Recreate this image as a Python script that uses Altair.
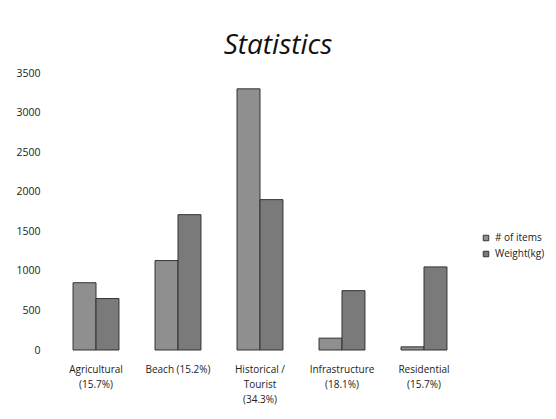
import altair as alt
import pandas as pd

categories = ["Agricultural|(15.7%)", "Beach (15.2%)", "Historical /|Tourist|(34.3%)",
              "Infrastructure|(18.1%)", "Residential|(15.7%)"]
series = ["# of items", "Weight(kg)"]
items = [850, 1130, 3300, 150, 40]
weight = [650, 1710, 1900, 750, 1050]
y_ticks = [0, 500, 1000, 1500, 2000, 2500, 3000, 3500]

rows = []
for c, a, b in zip(categories, items, weight):
    rows.append({"cat": c, "series": series[0], "value": a})
    rows.append({"cat": c, "series": series[1], "value": b})
df = pd.DataFrame(rows)

FONT = "Open Sans"

chart = alt.Chart(df).mark_bar(stroke="#333333", strokeWidth=1).encode(
    x=alt.X("cat:N", sort=categories, title=None,
            scale=alt.Scale(paddingInner=0.44, paddingOuter=0.22),
            axis=alt.Axis(labelAngle=0, domain=False, ticks=False,
                          labelExpr="split(datum.label, '|')",
                          labelFont=FONT, labelFontSize=10, labelLineHeight=15,
                          labelPadding=14, labelColor="#222222", labelBaseline="top")),
    xOffset=alt.XOffset("series:N", sort=series),
    y=alt.Y("value:Q", title=None,
            scale=alt.Scale(domain=[0, 3500], nice=False),
            axis=alt.Axis(values=y_ticks, grid=False, domain=False, ticks=False, format="d",
                          labelPadding=15, labelFont=FONT, labelFontSize=10.5,
                          labelColor="#222222")),
    color=alt.Color("series:N", sort=series,
                    scale=alt.Scale(domain=series, range=["#8f8f8f", "#7a7a7a"]),
                    legend=alt.Legend(title=None, orient="none", legendX=426, legendY=160,
                                      symbolType="square", symbolSize=30,
                                      symbolStrokeColor="#333333", symbolStrokeWidth=1,
                                      labelFont=FONT, labelFontSize=10, labelColor="#222222",
                                      rowPadding=6, labelOffset=4)),
).properties(
    width=410, height=277,
    title=alt.TitleParams("Statistics", font=FONT, fontSize=28, fontStyle="italic",
                          fontWeight="normal", color="#111111", dx=18, offset=8),
    autosize=alt.AutoSizeParams(type="none"),
    padding={"left": 47, "top": 65, "right": 83, "bottom": 55},
).configure(background="white").configure_view(strokeWidth=0, stroke="transparent")

chart.save("out.html", embed_options={"renderer": "svg", "actions": False})
